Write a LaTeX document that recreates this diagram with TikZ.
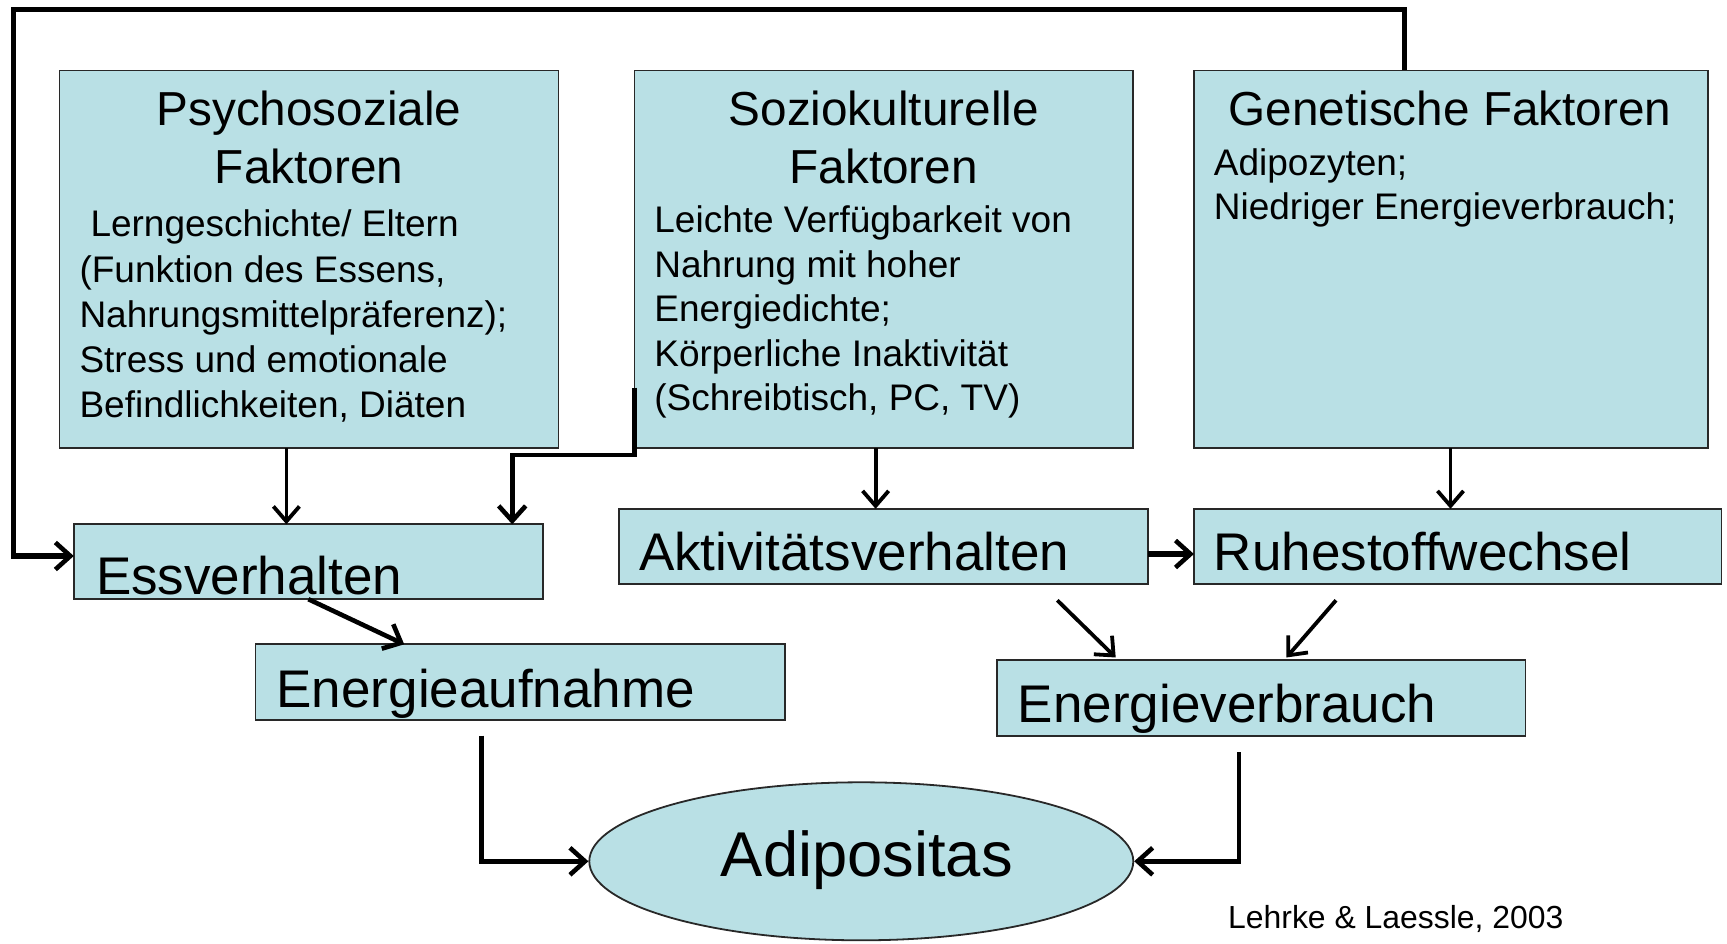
\documentclass[tikz,border=0pt]{standalone}
\usepackage{fontspec}
\setmainfont{Liberation Sans}
\usetikzlibrary{arrows.meta,shapes.geometric}
\definecolor{boxfill}{RGB}{185,224,229}
\definecolor{boxline}{RGB}{40,40,40}
\tikzset{
  box/.style={draw=boxline,fill=boxfill,line width=1.8pt,inner sep=0pt,outer sep=0pt,anchor=north west},
  ttl/.style={inner sep=0pt,anchor=base,font=\fontsize{47.7}{58}\selectfont},
  bdy/.style={inner sep=0pt,anchor=base west,font=\fontsize{37}{45}\selectfont},
  lbl/.style={inner sep=0pt,anchor=base west,font=\fontsize{53}{60}\selectfont},
  conn/.style={line width=4.6pt,-{Straight Barb[length=15pt,width=27pt,line width=4.6pt]}},
  thin conn/.style={line width=3.8pt,-{Straight Barb[length=15pt,width=26pt,line width=3.8pt]}}
}
\begin{document}
\begin{tikzpicture}[x=1pt,y=-1pt]
\useasboundingbox (0,0) rectangle (1727,944);
% boxes
\node[box,minimum width=498.9pt,minimum height=377.8pt] (psy) at (59.5,70.5) {};
\node[box,minimum width=498.9pt,minimum height=377.8pt] (soz) at (634.4,70.5) {};
\node[box,minimum width=514.4pt,minimum height=377.8pt] (gen) at (1193.9,70.5) {};
\node[box,minimum width=469.2pt,minimum height=74.9pt] (ess) at (73.8,524.3) {};
\node[box,minimum width=528.7pt,minimum height=74.9pt] (akt) at (619,508.8) {};
\node[box,minimum width=527.5pt,minimum height=74.9pt] (ruh) at (1193.9,508.8) {};
\node[box,minimum width=529.8pt,minimum height=76pt] (eau) at (255.5,644.3) {};
\node[box,minimum width=528.6pt,minimum height=76pt] (evb) at (996.8,659.7) {};
\node[ellipse,draw=boxline,fill=boxfill,line width=1.8pt,inner sep=0pt,minimum width=544pt,minimum height=158pt] (adi) at (861.3,861.3) {};
% texts
\node[ttl] (psyt1) at (309,125.6) {Psychosoziale};
\node[ttl] (psyt2) at (309,184) {Faktoren};
\node[bdy] (psyb1) at (90.3,236.8) {Lerngeschichte/ Eltern};
\node[bdy] (psyb2) at (79.3,282) {(Funktion des Essens,};
\node[bdy] (psyb3) at (79.3,327.2) {Nahrungsmittelpräferenz);};
\node[bdy] (psyb4) at (79.3,372.4) {Stress und emotionale};
\node[bdy] (psyb5) at (79.3,417.4) {Befindlichkeiten, Diäten};
\node[ttl] (sozt1) at (883.8,125.6) {Soziokulturelle};
\node[ttl] (sozt2) at (883.8,184) {Faktoren};
\node[bdy] (sozb1) at (654.2,232.4) {Leichte Verfügbarkeit von};
\node[bdy] (sozb2) at (654.2,277.6) {Nahrung mit hoher};
\node[bdy] (sozb3) at (654.2,321.6) {Energiedichte;};
\node[bdy] (sozb4) at (654.2,366.8) {Körperliche Inaktivität};
\node[bdy] (sozb5) at (654.2,410.8) {(Schreibtisch, PC, TV)};
\node[ttl] (gent1) at (1450,125.6) {Genetische Faktoren};
\node[bdy] (genb1) at (1213.7,175.1) {Adipozyten;};
\node[bdy] (genb2) at (1213.7,219.2) {Niedriger Energieverbrauch;};
\node[lbl] (esst) at (95.8,594.8) {Essverhalten};
\node[lbl] (aktt) at (638.8,570.5) {Aktivitätsverhalten};
\node[lbl] (ruht) at (1213.7,570.5) {Ruhestoffwechsel};
\node[lbl] (eaut) at (276.4,707.1) {Energieaufnahme};
\node[lbl] (evbt) at (1017.7,722.5) {Energieverbrauch};
\node[inner sep=0pt,anchor=base,font=\fontsize{63.3}{70}\selectfont] (adit) at (866.8,876.7) {Adipositas};
\node[inner sep=0pt,anchor=base west,font=\fontsize{31.9}{38}\selectfont] (cite) at (1228,928.5) {Lehrke \& Laessle, 2003};
% helper coordinates
\coordinate (loopx) at (1404.3,0);
\coordinate (looptop) at (13.2,9.5);
\coordinate (essy) at (0,556);
\coordinate (psyx) at (286.4,0);
\coordinate (sozl) at (634.4,387.7);
\coordinate (sozk) at (512.2,454.9);
\coordinate (sozx) at (875.6,0);
\coordinate (genx) at (1450.5,0);
\coordinate (akty) at (0,554);
\coordinate (eaux) at (404.2,0);
\coordinate (a1) at (1057.3,600.3);
\coordinate (a2) at (1115.7,657.5);
\coordinate (r1) at (1336,600.3);
\coordinate (r2) at (1286.4,657.5);
\coordinate (eauo) at (481.3,735.7);
\coordinate (evbo) at (1239,752.2);
% connectors
\draw[conn,line width=5.4pt] (gen.north -| loopx) |- (looptop) |- (ess.west |- essy);
\draw[thin conn] (psy.south -| psyx) -- (ess.north -| psyx);
\draw[conn] (sozl) |- (sozk) -- (ess.north -| sozk);
\draw[thin conn] (soz.south -| sozx) -- (akt.north -| sozx);
\draw[thin conn] (gen.south -| genx) -- (ruh.north -| genx);
\draw[conn,line width=5.4pt] (akt.east |- akty) -- (ruh.west |- akty);
\draw[conn] (ess.south) -- (eau.north -| eaux);
\draw[thin conn] (a1) -- (a2);
\draw[thin conn] (r1) -- (r2);
\draw[conn] (eauo) |- (adi.west);
\draw[conn] (evbo) |- (adi.east);
\end{tikzpicture}
\end{document}
